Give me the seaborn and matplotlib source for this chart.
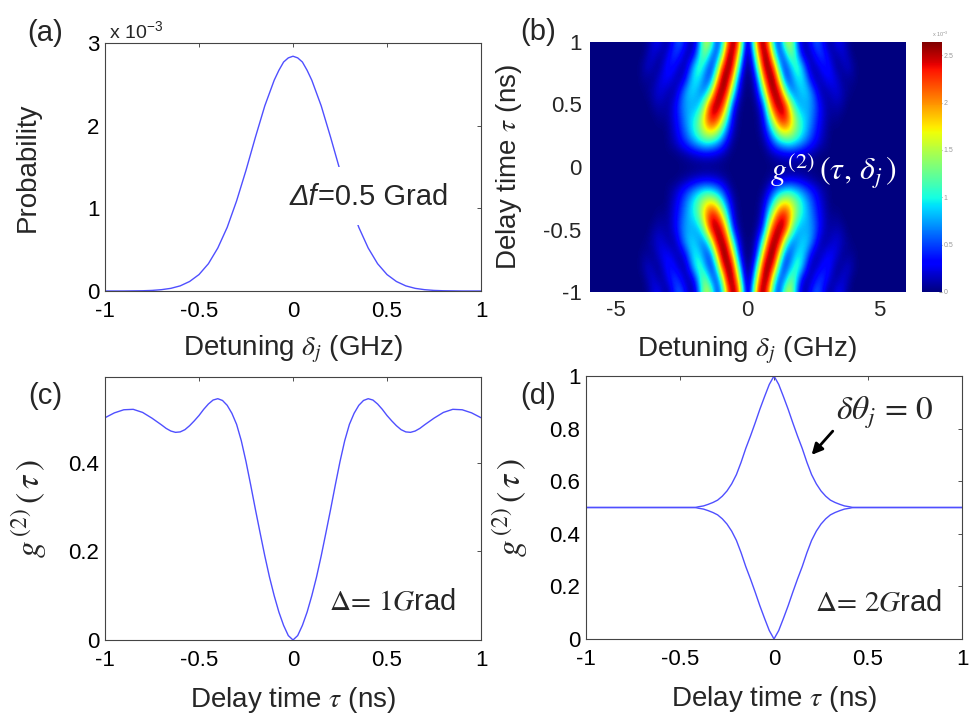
import numpy as np
import matplotlib
matplotlib.use('Agg')
import matplotlib.pyplot as plt
import matplotlib.patches as mpatches
import seaborn as sns

sns.set_style('white')
plt.rcParams['font.family'] = ['Liberation Sans', 'DejaVu Sans']
plt.rcParams['mathtext.fontset'] = 'stix'

LINE = '#4f4fff'

# (a) probability vs detuning, values in units of 1e-3
det_a = [-1.0, -0.9, -0.8, -0.75, -0.7, -0.65, -0.6, -0.55, -0.5, -0.45, -0.4, -0.35,
         -0.3, -0.25, -0.2, -0.15, -0.1, -0.075, -0.05, -0.025, 0.0, 0.025, 0.05, 0.075,
         0.1, 0.15, 0.2, 0.25, 0.3, 0.35, 0.4, 0.45, 0.5, 0.55, 0.6, 0.65, 0.7, 0.75,
         0.8, 0.9, 1.0]
prob_e3 = [0.0, 0.0, 0.003, 0.007, 0.016, 0.032, 0.062, 0.115, 0.199, 0.33, 0.52, 0.77,
           1.09, 1.46, 1.86, 2.24, 2.55, 2.67, 2.77, 2.82, 2.84, 2.82, 2.77, 2.67,
           2.55, 2.24, 1.86, 1.46, 1.09, 0.77, 0.52, 0.33, 0.199, 0.115, 0.062, 0.032, 0.016, 0.007,
           0.003, 0.0, 0.0]

# (b) g2(tau, delta) read for tau = 1.0 ... 0.0 (rows) and delta = 0 ... 4.0 step 0.2 (cols)
g2_delta_cols = [0.0, 0.2, 0.4, 0.6, 0.8, 1.0, 1.2, 1.4, 1.6, 1.8, 2.0,
                 2.2, 2.4, 2.6, 2.8, 3.0, 3.2, 3.4, 3.6, 3.8, 4.0]
g2_tau_rows = [1.0, 0.9, 0.8, 0.7, 0.6, 0.5, 0.4, 0.3, 0.2, 0.1, 0.0]
g2_quadrant = [
    [0.0, 1.1, 2.4, 2.6, 1.9, 0.7, 0.5, 1.35, 1.6, 0.85, 0.2, 0.1, 0.4, 0.6, 0.4, 0.1, 0.1, 0.3, 0.2, 0.05, 0.0],
    [0.0, 0.65, 2.0, 2.62, 2.45, 1.2, 0.45, 0.7, 1.3, 1.1, 0.4, 0.1, 0.15, 0.4, 0.5, 0.3, 0.1, 0.1, 0.22, 0.12, 0.0],
    [0.0, 0.3, 1.4, 2.5, 2.65, 2.15, 0.9, 0.4, 0.75, 1.15, 1.0, 0.45, 0.1, 0.15, 0.32, 0.4, 0.22, 0.05, 0.1, 0.18, 0.08],
    [0.0, 0.1, 0.75, 2.0, 2.62, 2.6, 1.7, 0.6, 0.5, 0.85, 1.0, 0.75, 0.3, 0.1, 0.15, 0.28, 0.3, 0.18, 0.05, 0.05, 0.05],
    [0.0, 0.05, 0.4, 1.3, 2.35, 2.62, 2.45, 1.45, 0.7, 0.65, 0.85, 0.9, 0.7, 0.35, 0.1, 0.1, 0.18, 0.22, 0.12, 0.05, 0.0],
    [0.0, 0.0, 0.15, 0.6, 1.75, 2.45, 2.6, 2.4, 1.6, 0.9, 0.75, 0.78, 0.72, 0.5, 0.25, 0.1, 0.1, 0.12, 0.08, 0.0, 0.0],
    [0.0, 0.0, 0.05, 0.35, 1.1, 1.9, 2.4, 2.45, 2.0, 1.4, 1.0, 0.85, 0.68, 0.45, 0.25, 0.1, 0.05, 0.05, 0.0, 0.0, 0.0],
    [0.0, 0.0, 0.03, 0.22, 0.65, 1.2, 1.7, 1.9, 1.75, 1.4, 1.1, 0.85, 0.6, 0.38, 0.2, 0.07, 0.0, 0.0, 0.0, 0.0, 0.0],
    [0.0, 0.0, 0.0, 0.08, 0.3, 0.6, 0.85, 1.0, 1.05, 0.95, 0.8, 0.62, 0.44, 0.28, 0.14, 0.05, 0.0, 0.0, 0.0, 0.0, 0.0],
    [0.0, 0.0, 0.0, 0.0, 0.05, 0.12, 0.18, 0.22, 0.23, 0.21, 0.17, 0.12, 0.07, 0.03, 0.0, 0.0, 0.0, 0.0, 0.0, 0.0, 0.0],
    [0.0] * 21,
]
cbar_ticks = [0, 0.5, 1, 1.5, 2, 2.5]

# (c) g2 vs delay, Delta = 1 Grad
tau_c = [-1.0, -0.95, -0.9, -0.85, -0.8, -0.75, -0.7, -0.675, -0.65, -0.625, -0.6,
         -0.575, -0.55, -0.525, -0.5, -0.475, -0.45, -0.425, -0.4, -0.375, -0.35,
         -0.325, -0.3, -0.275, -0.25, -0.225, -0.2, -0.175, -0.15, -0.125, -0.1,
         -0.075, -0.05, -0.025, 0.0, 0.025, 0.05, 0.075, 0.1, 0.125, 0.15, 0.175,
         0.2, 0.225, 0.25, 0.275, 0.3, 0.325, 0.35, 0.375, 0.4, 0.425, 0.45, 0.475,
         0.5, 0.525, 0.55, 0.575, 0.6, 0.625, 0.65, 0.675, 0.7, 0.75, 0.8, 0.85,
         0.9, 0.95, 1.0]
g2_c = [0.502, 0.513, 0.520, 0.521, 0.514, 0.501, 0.486, 0.478, 0.472, 0.469, 0.470,
        0.475, 0.484, 0.495, 0.507, 0.521, 0.533, 0.542, 0.545, 0.541, 0.530,
        0.512, 0.487, 0.450, 0.403, 0.350, 0.295, 0.242, 0.190, 0.142, 0.100,
        0.063, 0.033, 0.010, 0.0, 0.010, 0.033, 0.063, 0.100, 0.142, 0.190, 0.242,
        0.295, 0.350, 0.403, 0.450, 0.487, 0.512, 0.530, 0.541, 0.545, 0.542, 0.533, 0.521,
        0.507, 0.495, 0.484, 0.475, 0.470, 0.469, 0.472, 0.478, 0.486, 0.501, 0.514, 0.521,
        0.520, 0.513, 0.502]

# (d) g2 vs delay, Delta = 2 Grad, two phase branches
tau_d = [-1.0, -0.5, -0.42, -0.4, -0.375, -0.35, -0.325, -0.3, -0.275, -0.25, -0.225,
         -0.2, -0.175, -0.15, -0.125, -0.1, -0.075, -0.05, -0.025, 0.0, 0.025, 0.05,
         0.075, 0.1, 0.125, 0.15, 0.175, 0.2, 0.225, 0.25, 0.275, 0.3, 0.325, 0.35,
         0.375, 0.4, 0.42, 0.5, 1.0]
g2_d_upper = [0.5, 0.5, 0.5, 0.503, 0.506, 0.512, 0.519, 0.528, 0.543, 0.563, 0.590,
              0.625, 0.672, 0.725, 0.772, 0.822, 0.874, 0.922, 0.968, 1.0, 0.968, 0.922,
              0.874, 0.822, 0.772, 0.725, 0.672, 0.625, 0.590, 0.563, 0.543, 0.528, 0.519, 0.512,
              0.506, 0.503, 0.5, 0.5, 0.5]
g2_d_lower = [0.5, 0.5, 0.5, 0.497, 0.494, 0.488, 0.481, 0.472, 0.457, 0.437, 0.410,
              0.375, 0.328, 0.275, 0.228, 0.178, 0.126, 0.078, 0.032, 0.0, 0.032, 0.078,
              0.126, 0.178, 0.228, 0.275, 0.328, 0.375, 0.410, 0.437, 0.457, 0.472, 0.481, 0.488,
              0.494, 0.497, 0.5, 0.5, 0.5]

W, H = 971, 714
fig = plt.figure(figsize=(W / 100, H / 100), dpi=100)


def px_axes(left, top, right, bottom):
    return fig.add_axes([left / W, 1 - bottom / H, (right - left) / W, (bottom - top) / H])


def matlab_box(ax):
    ax.tick_params(direction='in', top=True, right=True, length=3, width=0.6,
                   labelsize=16, colors='#333333', labelcolor='black')
    ax.tick_params(axis='x', pad=7)
    ax.tick_params(axis='y', pad=4)
    for s in ax.spines.values():
        s.set_visible(True)
        s.set_color('#444444')
        s.set_linewidth(0.8)


half_ticks = [-1, -0.5, 0, 0.5, 1]
half_labels = ['-1', '-0.5', '0', '0.5', '1']

# ---- (a)
ax_a = px_axes(105, 43, 481, 291)
sns.lineplot(x=det_a, y=prob_e3, ax=ax_a, color=LINE, linewidth=1.0, estimator=None)
ax_a.set_xlim(-1, 1)
ax_a.set_ylim(0, 3)
ax_a.set_xticks(half_ticks)
ax_a.set_xticklabels(half_labels)
ax_a.set_yticks([0, 1, 2, 3])
ax_a.set_yticklabels(['0', '1', '2', '3'])
matlab_box(ax_a)
ax_a.set_xlabel(r'Detuning $\delta_j$ (GHz)', fontsize=20)
ax_a.set_ylabel('Probability', fontsize=20)
ax_a.xaxis.set_label_coords(0.5, -0.17)
ax_a.yaxis.set_label_coords(-0.17, 0.5)
ax_a.text(0.01, 1.0, r'x 10$^{\mathregular{-3}}$', transform=ax_a.transAxes,
          fontsize=14, va='bottom', ha='left')
# white patch behind the annotation, as in the original (curve is hidden under the text)
ax_a.add_patch(mpatches.Rectangle((0.47, 0.265), 0.5, 0.235, transform=ax_a.transAxes,
                                  facecolor='white', edgecolor='none', zorder=3))
t1 = ax_a.text(-0.02, 1.14, 'Δf', style='italic', fontsize=21, va='center', ha='left', zorder=4)
ax_a.annotate('=0.5 Grad', xy=(1, 0), xycoords=t1, xytext=(1, 0), textcoords='offset points',
              fontsize=21, va='bottom', ha='left', zorder=4)

# ---- (b)
quad = np.array(g2_quadrant)
full = np.vstack([quad, quad[-2::-1]])
full = np.hstack([full[:, :0:-1], full])
full = np.pad(full, ((0, 0), (10, 10)))
step = g2_delta_cols[1] - g2_delta_cols[0]
half_span = len(g2_delta_cols) - 1 + 10
ax_b = px_axes(590, 42, 905, 292)
im = ax_b.imshow(full, cmap='jet', vmin=0, vmax=2.64, interpolation='bicubic', aspect='auto',
                 origin='upper',
                 extent=[-(half_span + 0.5) * step, (half_span + 0.5) * step, -1.05, 1.05])
ax_b.set_xlim(-6, 6)
ax_b.set_ylim(-1, 1)
ax_b.set_xticks([-5, 0, 5])
ax_b.set_xticklabels(['-5', '0', '5'])
ax_b.set_yticks(half_ticks)
ax_b.set_yticklabels(half_labels)
ax_b.tick_params(length=0, labelsize=16, pad=6)
for s in ax_b.spines.values():
    s.set_visible(False)
ax_b.set_xlabel(r'Detuning $\delta_j$ (GHz)', fontsize=20)
ax_b.set_ylabel(r'Delay time $\tau$ (ns)', fontsize=20)
ax_b.xaxis.set_label_coords(0.5, -0.17)
ax_b.yaxis.set_label_coords(-0.21, 0.5)
ax_b.text(0.84, -0.03, r'$g^{(2)}\,(\tau,\,\delta_j\,)$', color='white', fontsize=23,
          va='center', ha='left')

cax = px_axes(922, 42, 942, 292)
cb = fig.colorbar(im, cax=cax)
cb.set_ticks(cbar_ticks)
cb.set_ticklabels(['0', '0.5', '1', '1.5', '2', '2.5'])
cb.ax.tick_params(labelsize=5, length=2, direction='in', colors='#999999', pad=1)
cb.outline.set_visible(False)
cax.text(0.5, 1.01, r'x 10$^{\mathregular{-3}}$', transform=cax.transAxes, fontsize=4,
         color='#999999', va='bottom', ha='left')

# ---- (c)
ax_c = px_axes(105, 377, 481, 640)
sns.lineplot(x=tau_c, y=g2_c, ax=ax_c, color=LINE, linewidth=1.0, estimator=None)
ax_c.set_xlim(-1, 1)
ax_c.set_ylim(0, 0.594)
ax_c.set_xticks(half_ticks)
ax_c.set_xticklabels(half_labels)
ax_c.set_yticks([0, 0.2, 0.4])
ax_c.set_yticklabels(['0', '0.2', '0.4'])
matlab_box(ax_c)
ax_c.set_xlabel(r'Delay time $\tau$ (ns)', fontsize=20)
ax_c.set_ylabel(r'$g^{\,(2)}\,(\,\tau\,)$', fontsize=24)
ax_c.xaxis.set_label_coords(0.5, -0.17)
ax_c.yaxis.set_label_coords(-0.15, 0.5)
ax_c.text(0.19, 0.086, r'$\Delta\!=\,1G$rad', fontsize=21, va='center', ha='left')

# ---- (d)
ax_d = px_axes(586, 376, 962, 639)
sns.lineplot(x=tau_d, y=g2_d_upper, ax=ax_d, color=LINE, linewidth=1.0, estimator=None)
sns.lineplot(x=tau_d, y=g2_d_lower, ax=ax_d, color=LINE, linewidth=1.0, estimator=None)
ax_d.set_xlim(-1, 1)
ax_d.set_ylim(0, 1)
ax_d.set_xticks(half_ticks)
ax_d.set_xticklabels(half_labels)
ax_d.set_yticks([0, 0.2, 0.4, 0.6, 0.8, 1])
ax_d.set_yticklabels(['0', '0.2', '0.4', '0.6', '0.8', '1'])
matlab_box(ax_d)
ax_d.set_xlabel(r'Delay time $\tau$ (ns)', fontsize=20)
ax_d.set_ylabel(r'$g^{\,(2)}\,(\,\tau\,)$', fontsize=24)
ax_d.xaxis.set_label_coords(0.5, -0.17)
ax_d.yaxis.set_label_coords(-0.15, 0.5)
ax_d.text(0.22, 0.14, r'$\Delta\!=\,2G$rad', fontsize=21, va='center', ha='left')
ax_d.annotate(r'$\delta\theta_j\,=\,0$', xy=(0.2, 0.70), xytext=(0.33, 0.86),
              fontsize=24, va='center', ha='left',
              arrowprops=dict(arrowstyle='-|>', color='black', lw=2.0,
                              shrinkA=0, shrinkB=0, mutation_scale=16,
                              relpos=(0.0, 0.1)))

# panel letters
for lab, (x, y) in {'(a)': (45, 33), '(b)': (538, 32), '(c)': (45, 396), '(d)': (538, 396)}.items():
    fig.text(x / W, 1 - y / H, lab, fontsize=21, ha='center', va='center')

fig.savefig('out.png', dpi=100)
